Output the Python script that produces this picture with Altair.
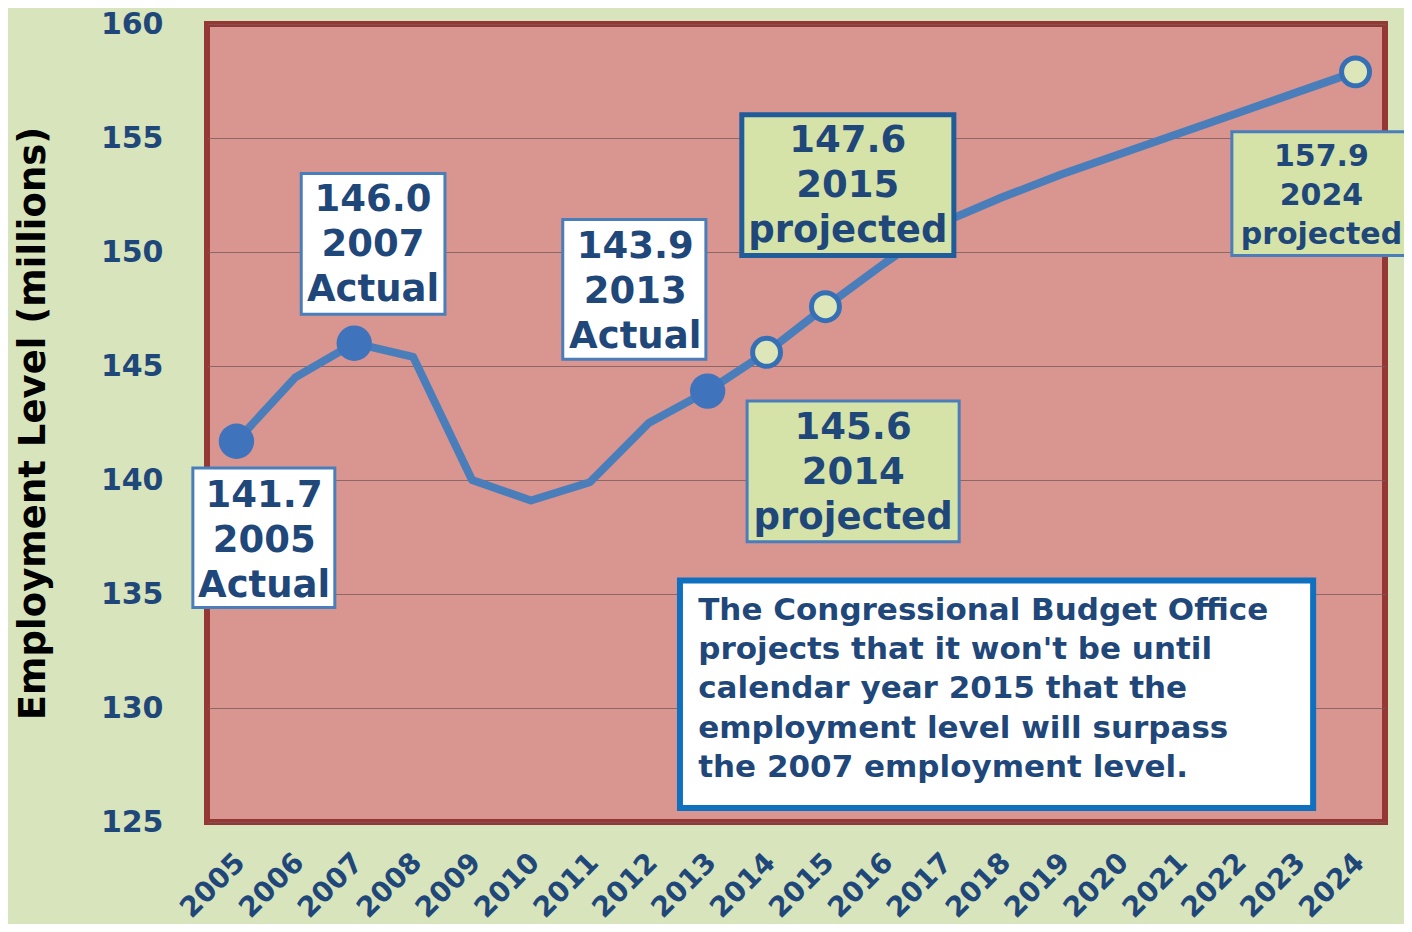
import altair as alt
import pandas as pd

# ---------------- data ----------------
years = list(range(2005, 2025))
employment = [141.7, 144.5, 146.0, 145.4, 140.0, 139.1, 139.9, 142.5, 143.9,
              145.6, 147.6, 149.5, 151.3, 152.4, 153.4, 154.3, 155.2, 156.1,
              157.0, 157.9]
actual_years = [2005, 2007, 2013]
projected_years = [2014, 2015, 2024]
y_ticks = [125, 130, 135, 140, 145, 150, 155, 160]

# annotation callouts (text lines, box extents in data units, first-line anchor)
ann_text = ["141.7\n2005\nActual", "146.0\n2007\nActual", "143.9\n2013\nActual",
            "147.6\n2015\nprojected", "145.6\n2014\nprojected", "157.9\n2024\nprojected"]
ann_x1 = [2004.26, 2006.10, 2010.54, 2013.58, 2013.67, 2021.90]
ann_x2 = [2006.67, 2008.54, 2012.97, 2017.18, 2017.27, 2024.96]
ann_y1 = [140.53, 153.44, 151.43, 156.02, 143.46, 155.27]
ann_y2 = [134.41, 147.27, 145.30, 149.85, 137.29, 149.85]
ann_tx = [2005.47, 2007.32, 2011.77, 2015.38, 2015.47, 2023.42]
ann_ty = [139.31, 152.30, 150.24, 154.88, 142.28, 154.18]
ann_kind = ["actual", "actual", "actual", "proj_dark", "proj", "proj_small"]

note_text = ("The Congressional Budget Office\nprojects that it won't be until\n"
             "calendar year 2015 that the\nemployment level will surpass\n"
             "the 2007 employment level.")
note_box = dict(x1=2012.53, x2=2023.28, y1=135.59, y2=125.61, tx=2012.84, ty=134.27)

# ---------------- styles ----------------
FONT = "DejaVu Sans"
TXT = "#1F477A"
BG = "#D8E4BC"
PLOT = "#D9958F"
LINE = "#4A7EBB"
GREENBOX = "#D5E3A9"

df = pd.DataFrame({"year": years, "employment": employment})
pts_a = df[df["year"].isin(actual_years)]
pts_p = df[df["year"].isin(projected_years)]

ann = pd.DataFrame({"text": ann_text, "x1": ann_x1, "x2": ann_x2, "y1": ann_y1,
                    "y2": ann_y2, "tx": ann_tx, "ty": ann_ty, "kind": ann_kind})
note = pd.DataFrame([dict(note_box, text=note_text)])

xscale = alt.Scale(domain=[2004.5, 2024.5], nice=False, zero=False)
yscale = alt.Scale(domain=[125, 160], nice=False, zero=False)

xaxis = alt.Axis(values=years, format="d", labelAngle=-45, labelAlign="right",
                 labelBaseline="middle", labelPadding=36, labelOffset=4,
                 grid=False, ticks=False, tickSize=0, domain=False,
                 labelFontSize=28, labelFont=FONT, labelFontWeight="bold",
                 labelColor=TXT, title=None, labelOverlap=False,
                 labelBound=False, labelFlush=False)
yaxis = alt.Axis(values=y_ticks, grid=True, gridColor="#7A5A5A", gridWidth=1,
                 gridOpacity=0.8, ticks=False, tickSize=0, domain=False,
                 labelPadding=44, labelFontSize=30, labelFont=FONT,
                 labelFontWeight="bold", labelColor=TXT,
                 title="Employment Level (millions)", titleFont=FONT,
                 titleFontSize=37, titleFontWeight="bold", titleColor="black",
                 titleX=-174, titleY=399, titleAngle=-90, titleAlign="center",
                 titleBaseline="middle")

X = alt.X("year:Q", scale=xscale, axis=xaxis)
Y = alt.Y("employment:Q", scale=yscale, axis=yaxis)

line = alt.Chart(df).mark_line(color=LINE, strokeWidth=8, strokeJoin="round").encode(x=X, y=Y)

actual_pts = alt.Chart(pts_a).mark_circle(size=1250, color="#3F74BC", opacity=1).encode(
    x=alt.X("year:Q", scale=xscale), y=alt.Y("employment:Q", scale=yscale))
proj_pts = alt.Chart(pts_p).mark_point(shape="circle", size=780, filled=True,
                                       fill="#DCE6B8", stroke="#3570B6",
                                       strokeWidth=5, opacity=1).encode(
    x=alt.X("year:Q", scale=xscale), y=alt.Y("employment:Q", scale=yscale))


def box_layer(data, fill, stroke, sw):
    return alt.Chart(data).mark_rect(fill=fill, stroke=stroke, strokeWidth=sw).encode(
        x=alt.X("x1:Q", scale=xscale), x2="x2:Q",
        y=alt.Y("y1:Q", scale=yscale), y2="y2:Q")


def text_layer(data, size, lh, align="center"):
    return alt.Chart(data).mark_text(font=FONT, fontWeight="bold", fontSize=size,
                                     color=TXT, lineBreak="\n", lineHeight=lh,
                                     align=align, baseline="middle").encode(
        x=alt.X("tx:Q", scale=xscale), y=alt.Y("ty:Q", scale=yscale), text="text:N")


ann_actual = ann[ann["kind"] == "actual"]
ann_pdark = ann[ann["kind"] == "proj_dark"]
ann_proj = ann[ann["kind"] == "proj"]
ann_small = ann[ann["kind"] == "proj_small"]

layers = [
    line, actual_pts, proj_pts,
    box_layer(ann_actual, "white", "#4A7EBB", 3),
    box_layer(ann_pdark, GREENBOX, "#1F5C99", 5),
    box_layer(ann_proj, GREENBOX, "#4A7EBB", 3),
    box_layer(ann_small, GREENBOX, "#4A7EBB", 3),
    box_layer(note, "white", "#1070C0", 6),
    text_layer(pd.concat([ann_actual, ann_pdark, ann_proj]), 37, 45),
    text_layer(ann_small, 30, 39),
    text_layer(note, 31, 39.3, align="left"),
]

chart = alt.layer(*layers).properties(
    width=1178, height=798,
    autosize=alt.AutoSizeParams(type="none"),
    padding={"left": 199, "top": 16, "right": 19, "bottom": 102},
    background=BG,
).configure_view(fill=PLOT, stroke="#953735", strokeWidth=6)

chart.save("out.html", embed_options={"renderer": "svg", "actions": False})
